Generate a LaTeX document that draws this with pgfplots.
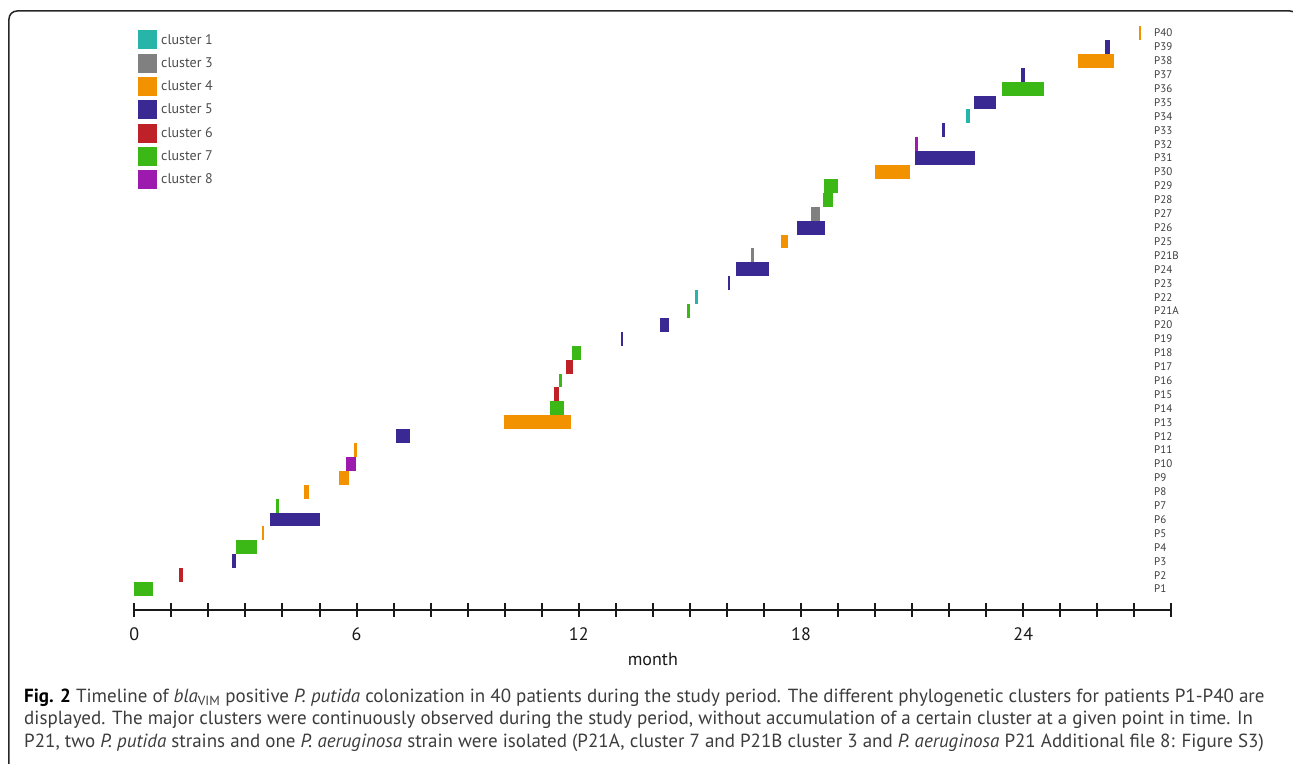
\documentclass[border=0pt]{standalone}
\usepackage{fontspec}
\setmainfont{PT Sans}
\usepackage{pgfplots}
\usepackage{pgfplotstable}
\pgfplotsset{compat=1.18}

\definecolor{cA}{HTML}{26B5A8}
\definecolor{cC}{HTML}{808080}
\definecolor{cD}{HTML}{F39200}
\definecolor{cE}{HTML}{3A2993}
\definecolor{cF}{HTML}{BE2127}
\definecolor{cG}{HTML}{3CB816}
\definecolor{cH}{HTML}{9C1BAE}
\definecolor{txt}{HTML}{3C3C3C}

% row (P1 = 1 ... P40 = 41), start month, end month
\pgfplotstableread{
r s e
22 15.14 15.22
35 22.45 22.56
}\clA
\pgfplotstableread{
r s e
25 16.65 16.73
28 18.27 18.51
}\clC
\pgfplotstableread{
r s e
5 3.45 3.50
8 4.58 4.72
9 5.53 5.80
11 5.93 6.01
13 9.98 11.79
26 17.46 17.65
31 19.99 20.94
39 25.48 26.45
41 27.13 27.18
}\clD
\pgfplotstableread{
r s e
3 2.64 2.74
6 3.67 5.01
12 7.07 7.44
19 13.14 13.19
20 14.19 14.44
23 16.03 16.08
24 16.25 17.14
27 17.89 18.65
32 21.08 22.70
34 21.81 21.89
36 22.67 23.26
38 23.94 24.05
40 26.21 26.34
}\clE
\pgfplotstableread{
r s e
2 1.21 1.31
15 11.33 11.47
17 11.65 11.84
}\clF
\pgfplotstableread{
r s e
1 0.00 0.50
4 2.74 3.31
7 3.83 3.91
14 11.22 11.60
16 11.47 11.55
18 11.82 12.06
21 14.92 15.00
29 18.59 18.86
30 18.62 19.00
37 23.43 24.56
}\clG
\pgfplotstableread{
r s e
10 5.72 5.99
33 21.08 21.16
}\clH

\pgfplotsset{
  cl/.style={draw=none, mark=none,
    legend image code/.code={\fill[#1] (0pt,-9.5pt) rectangle (19pt,9.5pt);},
    error bars/.cd, x dir=plus, x explicit, error mark=none,
    error bar style={line width=13.9pt, draw=#1}},
}

\begin{document}
\begin{tikzpicture}
\begin{axis}[
  x=37.04pt, y=13.9pt,
  xmin=0, xmax=28, ymin=-0.5, ymax=41.5,
  axis x line=bottom, axis y line=right,
  x axis line style={-, line width=2pt, color=black!90},
  y axis line style={draw=none},
  xtick={0,...,28},
  xticklabels={0,,,,,,6,,,,,,12,,,,,,18,,,,,,24,,,,},
  ytick={1,...,41},
  yticklabels={P1,P2,P3,P4,P5,P6,P7,P8,P9,P10,P11,P12,P13,P14,P15,P16,P17,P18,P19,P20,
    P21A,P22,P23,P24,P21B,P25,P26,P27,P28,P29,P30,P31,P32,P33,P34,P35,P36,P37,P38,P39,P40},
  tick align=center,
  major tick length=14pt,
  xtick style={line width=2pt, color=black!90},
  ytick style={draw=none},
  xticklabel style={font=\fontsize{18}{18}\selectfont, text=black!90, yshift=-7pt},
  yticklabel style={font=\fontsize{11}{11}\selectfont, anchor=west, inner sep=0pt, xshift=-24.4pt, text=txt},
  xlabel={month},
  xlabel style={font=\fontsize{18}{18}\selectfont, text=black!90, yshift=-6pt},
  clip=false,
  legend style={at={(axis cs:0.1,41.36)}, anchor=north west, draw=none, fill=none,
    inner sep=0pt, row sep=0pt, column sep=4pt,
    nodes={inner sep=0pt, minimum height=23.3pt, font=\fontsize{14}{14}\selectfont, text=black!70}},
  legend cell align=left,
]
\addplot[cl=cA] table[x=s, y=r, x error expr=\thisrow{e}-\thisrow{s}] {\clA};
\addplot[cl=cC] table[x=s, y=r, x error expr=\thisrow{e}-\thisrow{s}] {\clC};
\addplot[cl=cD] table[x=s, y=r, x error expr=\thisrow{e}-\thisrow{s}] {\clD};
\addplot[cl=cE] table[x=s, y=r, x error expr=\thisrow{e}-\thisrow{s}] {\clE};
\addplot[cl=cF] table[x=s, y=r, x error expr=\thisrow{e}-\thisrow{s}] {\clF};
\addplot[cl=cG] table[x=s, y=r, x error expr=\thisrow{e}-\thisrow{s}] {\clG};
\addplot[cl=cH] table[x=s, y=r, x error expr=\thisrow{e}-\thisrow{s}] {\clH};
\legend{cluster 1, cluster 3, cluster 4, cluster 5, cluster 6, cluster 7, cluster 8}
\coordinate (o) at (axis cs:0,1);
\end{axis}
\path ([xshift=-134.3pt,yshift=589pt]o) coordinate (tl);
\begin{scope}[shift={(tl)}, x=1pt, y=-1pt]
  \draw[line width=1.5pt, color=black!85, rounded corners=8pt]
    (9,780) -- (9,11) -- (1298,11) -- (1298,60);
  \node[anchor=base west, align=left, inner sep=0pt, text=txt,
        font=\fontsize{19}{22.5}\selectfont] at (24,747)
    {\textcolor{black}{\textbf{Fig. 2}} Timeline of \textit{bla}\textsubscript{VIM} positive \textit{P. putida} colonization in 40 patients during the study period. The different phylogenetic clusters for patients P1-P40 are\\
     displayed. The major clusters were continuously observed during the study period, without accumulation of a certain cluster at a given point in time. In\\
     P21, two \textit{P. putida} strains and one \textit{P. aeruginosa} strain were isolated (P21A, cluster 7 and P21B cluster 3 and \textit{P. aeruginosa} P21 Additional file 8: Figure S3)};
  \pgfresetboundingbox
  \path[use as bounding box] (0,0) rectangle (1293,763);
\end{scope}
\end{tikzpicture}
\end{document}
